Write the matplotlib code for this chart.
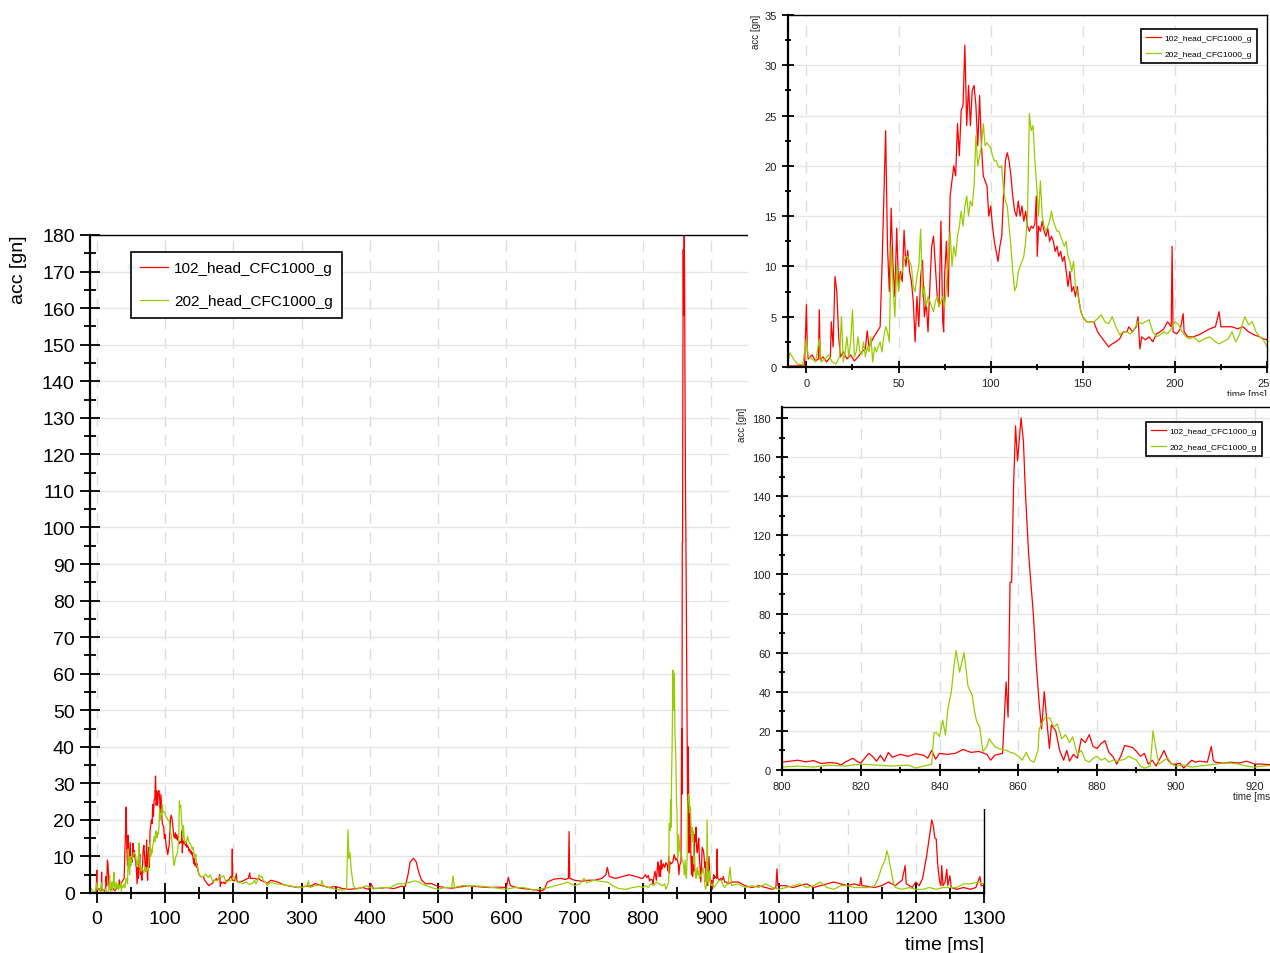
import matplotlib
matplotlib.use("Agg")
import matplotlib.pyplot as plt
from matplotlib.ticker import MultipleLocator
import numpy as np

plt.rcParams['font.family'] = ['Liberation Sans', 'DejaVu Sans']

label_red = "102_head_CFC1000_g"
label_green = "202_head_CFC1000_g"
c_red = "#ff0000"
c_green = "#99cc00"

# (time [ms], acc [gn]), split by time range
red_a = [(-10, 0.1), (-5, 0.1), (-1, 0.2), (0, 6.2), (0.5, 1.5), (1, 0.8), (3, 1.2), (5, 0.6),
         (6.5, 0.8), (7, 5.7), (7.5, 0.7), (9, 1.0), (11, 0.5), (13, 1.0), (13.5, 4.5), (14.5, 2.0),
         (15.5, 9.0), (16.5, 7.5), (17.5, 3.0), (18.5, 1.0), (20, 1.5), (22, 0.8), (24, 1.2), (26, 0.6),
         (28, 1.0), (30, 1.5), (32, 1.8), (33, 3.6), (34, 2.0), (36, 2.8), (38, 3.4), (40, 4.0),
         (41, 9.8), (42, 16.5), (43, 23.5), (44, 12.0), (45, 7.5), (46, 15.8), (47, 10.0), (48, 7.0),
         (49, 13.8), (50, 8.0), (51, 9.5), (52, 8.5), (53, 13.6), (54, 10.0), (55, 11.6), (56, 9.5),
         (57, 8.5), (58, 6.5), (59, 2.5), (60, 7.0), (61, 4.0), (62, 9.0), (63, 10.6), (64, 5.0),
         (65, 6.5), (66, 3.5), (67, 8.0), (68, 12.0), (69, 13.0), (70, 10.0), (71, 7.0), (72, 6.0),
         (73, 14.5), (74, 4.5), (74.5, 3.5), (75, 9.0), (76, 12.5), (77, 7.0), (78, 17.0), (79, 18.5),
         (80, 20.0), (81, 19.0), (82, 24.2), (83, 21.0), (84, 25.5), (85, 26.0), (86, 32.0), (87, 24.0),
         (88, 28.0), (89, 24.0), (90, 27.5), (91, 28.0), (92, 26.0), (93, 22.0), (94, 27.0), (95, 22.0),
         (96, 19.0), (97, 18.5), (98, 18.0), (99, 15.0), (100, 16.0), (101, 14.0), (102, 12.5),
         (103, 11.5), (104, 10.5), (105, 12.0), (106, 13.0), (107, 17.0), (108, 20.5), (109, 21.3),
         (110, 20.5), (111, 19.0), (112, 17.0), (113, 15.5), (114, 15.0), (115, 16.5), (116, 15.0),
         (117, 16.0), (118, 14.5), (119, 15.5), (120, 14.0), (121, 13.5), (122, 14.0), (123, 13.8),
         (124, 14.2), (124.8, 17.0), (125.3, 11.0), (126, 14.0), (127, 13.5), (128, 14.5), (129, 13.5),
         (130, 13.0), (131, 13.8), (132, 12.5), (133, 13.0), (134, 12.5), (135, 11.5), (136, 12.0),
         (137, 11.0), (138, 11.5), (139, 10.5), (140, 11.0), (141, 9.5), (142, 8.0), (143, 9.5),
         (144, 7.5), (145, 8.0), (146, 7.0), (147, 8.0), (148, 6.5), (149, 5.5), (150, 5.0), (152, 4.5),
         (154, 4.5), (156, 4.5), (158, 3.5), (160, 3.0), (162, 2.5), (164, 2.0), (166, 2.3), (168, 2.5),
         (170, 2.8), (172, 3.5), (174, 3.5), (175, 4.0), (177, 3.5), (179, 4.0), (180, 5.0), (181, 1.8),
         (182, 3.0), (184, 2.7), (186, 3.0), (188, 2.5), (190, 3.3), (192, 3.5), (194, 3.8), (196, 4.5),
         (198, 4.0), (198.5, 12.0), (199, 3.5), (201, 3.3), (203, 3.8), (204.5, 5.3), (205, 3.5),
         (207, 3.0), (210, 3.0), (213, 3.2), (216, 3.5), (219, 3.8), (222, 4.0), (224, 5.5), (225, 4.0),
         (228, 4.0), (231, 4.0), (234, 3.8), (237, 4.0), (240, 3.5), (243, 3.2), (246, 3.0), (248, 2.8),
         (250, 2.7)]

green_a = [(-10, 0.5), (-9, 1.4), (-7, 0.8), (-5, 0.3), (-2, 0.2), (0, 2.8), (1, 1.0), (3, 0.8),
           (5, 0.5), (7, 2.8), (8, 0.5), (10, 0.8), (12, 1.2), (14, 0.5), (16, 0.3), (18, 1.0),
           (19, 5.0), (20, 0.5), (21, 1.5), (22, 3.0), (23, 1.0), (24, 2.5), (25, 5.7), (26, 1.0),
           (27, 1.5), (28, 3.0), (29, 1.5), (30, 1.2), (31, 2.5), (32, 1.0), (33, 2.0), (34, 1.5),
           (35, 3.0), (36, 0.5), (37, 2.0), (38, 1.5), (39, 2.0), (40, 2.5), (41, 1.5), (42, 3.0),
           (43, 4.0), (44, 3.5), (45, 2.5), (46, 12.0), (47, 8.0), (48, 5.0), (49, 10.0), (50, 7.5),
           (51, 9.0), (52, 9.5), (53, 10.5), (54, 11.0), (55, 11.0), (56, 10.5), (57, 10.0), (58, 8.0),
           (59, 7.5), (60, 9.0), (61, 10.0), (62, 13.7), (63, 7.0), (64, 8.0), (65, 6.0), (66, 7.0),
           (67, 6.5), (68, 6.0), (69, 5.5), (70, 6.5), (71, 7.0), (72, 6.0), (73, 6.5), (74, 7.0),
           (75, 6.0), (76, 8.0), (77, 11.0), (78, 13.5), (79, 10.0), (80, 12.0), (81, 11.0), (82, 13.0),
           (83, 14.0), (84, 15.5), (85, 14.0), (86, 16.0), (87, 17.0), (88, 15.0), (89, 16.5),
           (90, 16.0), (91, 18.0), (92, 23.0), (93, 20.0), (94, 21.0), (95, 22.0), (96, 24.2),
           (97, 22.0), (98, 22.3), (99, 22.0), (100, 21.8), (101, 21.0), (102, 20.5), (103, 20.5),
           (104, 20.0), (105, 19.8), (106, 20.0), (107, 17.5), (108, 16.5), (109, 16.0), (110, 14.0),
           (111, 12.0), (112, 9.5), (113, 7.6), (114, 8.0), (115, 9.5), (116, 10.0), (117, 10.5),
           (118, 11.0), (119, 12.5), (120, 15.0), (121, 25.2), (122, 23.5), (123, 24.0), (124, 20.5),
           (125, 18.0), (126, 15.0), (127, 18.5), (128, 15.0), (129, 14.0), (130, 13.5), (131, 14.0),
           (132, 14.5), (133, 15.5), (134, 14.5), (135, 14.0), (136, 13.5), (137, 13.5), (138, 13.0),
           (139, 12.5), (140, 12.0), (141, 12.5), (142, 11.0), (143, 10.5), (144, 9.5), (145, 10.5),
           (146, 8.0), (147, 7.5), (148, 6.5), (149, 5.5), (150, 5.0), (152, 4.5), (154, 4.5),
           (156, 4.5), (158, 4.8), (160, 5.2), (162, 4.5), (164, 4.3), (166, 5.0), (168, 4.0),
           (170, 3.2), (172, 3.5), (174, 3.5), (176, 3.3), (178, 3.8), (180, 4.5), (182, 4.3),
           (184, 4.5), (186, 4.7), (188, 3.5), (190, 3.0), (192, 3.2), (194, 3.5), (196, 3.3),
           (198, 3.8), (200, 4.5), (202, 4.2), (204, 3.5), (206, 3.0), (208, 2.8), (210, 3.0),
           (213, 2.5), (216, 2.8), (219, 3.0), (222, 2.5), (224, 2.3), (226, 2.5), (229, 2.8),
           (231, 3.5), (233, 2.5), (235, 3.2), (237, 4.5), (238, 5.0), (240, 4.2), (242, 4.5),
           (244, 3.5), (246, 3.0), (248, 2.7), (250, 2.0)]

red_b = [(255, 3.5), (265, 3.0), (275, 2.2), (285, 1.8), (295, 1.5), (305, 1.8), (315, 2.0), (320, 2.6),
         (330, 2.0), (340, 1.5), (350, 1.8), (360, 1.2), (370, 1.0), (380, 1.2), (390, 1.5), (398, 1.0),
         (402, 2.5), (405, 1.2), (415, 1.3), (425, 1.5), (435, 1.2), (445, 1.8), (452, 1.8), (456, 5.0),
         (459, 8.4), (464, 9.5), (468, 8.5), (472, 5.5), (476, 3.5), (482, 2.5), (490, 2.6), (500, 1.8),
         (510, 1.5), (520, 1.3), (530, 1.6), (545, 2.0), (560, 1.7), (575, 1.5), (590, 1.6), (600, 1.5),
         (603, 4.3), (606, 2.0), (615, 1.5), (625, 1.2), (635, 1.0), (645, 0.8), (650, 0.5), (656, 1.0),
         (660, 3.0), (670, 3.8), (680, 4.0), (686, 3.7), (691, 4.0), (692, 16.8), (693, 4.0), (700, 3.5),
         (710, 3.2), (720, 3.5), (730, 3.5), (740, 4.0), (746, 5.0), (748, 7.0), (751, 4.5), (760, 4.0),
         (770, 4.5), (780, 5.0), (790, 4.5), (798, 4.0)]

green_b = [(255, 3.0), (262, 2.5), (272, 2.3), (282, 2.0), (292, 1.6), (300, 1.5), (308, 2.0), (310, 3.3),
           (312, 1.5), (320, 2.0), (328, 2.2), (330, 3.4), (332, 2.0), (340, 1.5), (350, 1.0), (360, 0.8),
           (366, 1.0), (368, 17.3), (369.5, 9.5), (371, 11.0), (373, 6.0), (376, 2.0), (380, 1.0),
           (388, 1.5), (395, 2.0), (400, 1.5), (410, 1.2), (420, 1.5), (430, 1.5), (440, 2.5), (450, 2.5),
           (460, 3.0), (466, 3.3), (472, 3.0), (480, 2.2), (490, 1.5), (500, 1.0), (510, 1.5), (520, 1.5),
           (522, 4.7), (524, 1.5), (535, 2.0), (550, 2.0), (565, 1.8), (580, 1.5), (592, 1.2), (600, 1.0),
           (612, 1.5), (625, 1.5), (640, 0.8), (652, 1.2), (662, 1.5), (672, 2.0), (682, 2.5), (690, 3.0),
           (700, 2.0), (708, 2.5), (714, 4.0), (718, 2.8), (728, 3.5), (738, 3.2), (748, 3.0), (756, 2.0),
           (765, 1.2), (775, 1.0), (785, 1.5), (795, 1.8)]

red_c = [(800, 4.0), (802, 4.5), (804, 5.0), (806, 4.2), (808, 4.8), (810, 3.3), (812, 3.8), (814, 3.5),
         (815, 2.5), (816, 4.0), (818, 6.0), (819, 4.5), (820, 3.5), (821, 6.0), (822, 8.5), (823, 7.0),
         (824, 4.5), (825, 7.5), (826, 4.5), (827, 9.0), (828, 6.5), (830, 8.0), (832, 7.0), (834, 8.3),
         (836, 7.5), (837, 6.0), (838, 10.0), (839, 5.5), (840, 8.5), (842, 8.0), (844, 8.5), (846, 10.5),
         (848, 9.0), (850, 9.5), (852, 8.0), (853, 5.0), (854, 7.5), (856, 8.5), (856.9, 45.0),
         (857.4, 27.0), (857.9, 96.0), (858.3, 96.0), (858.8, 145.0), (859.3, 176.0), (859.8, 158.0),
         (860.2, 168.0), (860.7, 180.0), (861.3, 168.0), (861.8, 142.0), (862.6, 111.0), (863.8, 80.0),
         (864.6, 53.0), (865.3, 34.0), (865.9, 21.0), (866.6, 40.0), (867.2, 26.0), (867.9, 11.0),
         (868.4, 23.0), (869.5, 20.0), (870.5, 10.0), (871.5, 5.0), (872.3, 10.0), (873, 4.5),
         (874, 8.0), (875, 6.0), (876, 16.0), (877, 14.0), (878, 18.0), (879, 12.0), (880, 11.0),
         (881, 13.5), (882, 15.0), (883, 9.0), (884, 7.0), (885, 3.0), (886, 7.0), (887, 12.5),
         (888, 12.0), (889, 11.5), (890, 9.5), (891, 7.0), (892, 8.5), (893, 3.0), (894, 5.0),
         (895, 2.0), (896, 6.0), (897, 10.0), (898, 5.0), (899, 3.0), (900, 3.0), (901, 3.5),
         (902, 1.0), (903, 3.0), (904, 5.0), (905, 4.0), (906, 4.5), (908, 4.0), (909, 12.0),
         (909.5, 5.0), (910, 4.0), (912, 3.5), (914, 4.0), (916, 3.5), (918, 4.5), (920, 3.0),
         (922, 3.0), (925, 2.5)]

green_c = [(800, 1.5), (804, 2.0), (808, 1.5), (812, 2.5), (816, 2.0), (820, 3.0), (824, 2.5), (828, 2.0),
           (832, 2.5), (834, 1.0), (836, 2.0), (838, 3.0), (838.6, 19.0), (839.3, 19.0), (840, 17.0),
           (840.8, 25.5), (841.5, 18.0), (842.1, 31.0), (843, 40.0), (843.6, 52.0), (844.2, 61.0),
           (844.7, 55.0), (845.1, 50.0), (846.2, 60.0), (846.7, 52.0), (847.2, 43.0), (848.3, 38.0),
           (848.9, 30.0), (849.4, 25.0), (850.2, 22.0), (851, 9.5), (852, 12.0), (852.6, 16.0),
           (854, 12.0), (855, 11.0), (856, 10.5), (857, 10.0), (858, 9.0), (859, 8.5), (860, 7.0),
           (861, 5.0), (862, 9.0), (863, 5.0), (864, 4.0), (865, 10.0), (865.3, 21.0), (866.8, 27.0),
           (868, 26.5), (869, 22.0), (869.9, 23.5), (871, 16.0), (872, 18.0), (873, 14.0), (873.8, 17.0),
           (875, 8.0), (876, 10.0), (877, 5.0), (878, 4.0), (879, 6.0), (880, 7.0), (881, 5.0),
           (882, 6.0), (883, 4.0), (884, 5.0), (885, 4.5), (886, 5.0), (887, 5.5), (888, 7.0),
           (889, 6.0), (890, 5.0), (891, 2.0), (892, 1.0), (893.5, 2.0), (894.2, 20.0), (895, 10.0),
           (895.7, 3.0), (897, 5.0), (898, 6.0), (899, 3.0), (900, 2.0), (902, 2.5), (904, 1.5),
           (906, 2.0), (908, 2.5), (910, 3.0), (912, 3.5), (914, 3.5), (916, 3.0), (918, 2.0),
           (920, 1.5), (922, 2.0), (925, 2.5)]

red_d = [(930, 3.0), (940, 3.0), (950, 2.0), (960, 1.5), (970, 2.0), (980, 1.5), (990, 1.0), (995, 1.5),
         (996.6, 6.6), (998, 2.0), (1010, 2.0), (1020, 1.5), (1030, 2.0), (1040, 2.5), (1050, 1.5),
         (1060, 2.0), (1070, 2.5), (1080, 3.0), (1090, 2.5), (1100, 2.0), (1110, 2.5), (1118, 2.0),
         (1119.6, 4.3), (1121, 2.0), (1130, 1.8), (1140, 1.5), (1150, 2.0), (1160, 3.0), (1170, 2.0),
         (1180, 3.5), (1184.5, 7.5), (1186, 2.5), (1195, 1.5), (1200, 3.0), (1205, 2.0), (1210, 4.0),
         (1216, 10.2), (1219, 14.0), (1222, 18.0), (1223.5, 20.0), (1226, 18.0), (1228, 15.0),
         (1230, 14.8), (1232, 8.0), (1235, 3.0), (1237, 2.0), (1238, 7.5), (1240, 2.0), (1243, 3.0),
         (1245.5, 6.5), (1247, 2.0), (1250, 4.7), (1252, 1.5), (1260, 1.0), (1270, 1.5), (1280, 1.0),
         (1288, 1.5), (1294, 4.5), (1296, 2.0), (1300, 2.0)]

green_d = [(928, 7.0), (930, 2.0), (940, 2.5), (950, 1.5), (960, 2.0), (970, 1.5), (980, 2.5), (990, 1.5),
           (1000, 1.0), (1010, 1.5), (1020, 2.0), (1030, 2.5), (1040, 1.5), (1050, 2.0), (1060, 3.0),
           (1070, 1.5), (1080, 1.0), (1090, 2.0), (1100, 2.0), (1110, 1.5), (1120, 1.5), (1130, 1.5),
           (1140, 2.0), (1145, 4.0), (1150, 7.0), (1155, 9.0), (1157.6, 11.6), (1160, 10.0), (1163, 7.0),
           (1167, 3.0), (1170, 1.5), (1180, 1.0), (1190, 1.5), (1200, 1.0), (1210, 1.0), (1220, 1.5),
           (1230, 1.0), (1240, 1.5), (1250, 1.5), (1260, 1.5), (1270, 2.5), (1280, 2.5), (1290, 3.0),
           (1300, 2.5)]

t_red, acc_red = np.array(red_a + red_b + red_c + red_d).T
t_green, acc_green = np.array(green_a + green_b + green_c + green_d).T


def style_axes(ax, xmaj, xmin, ymaj, ymin, big, lab_size):
    ax.xaxis.set_major_locator(MultipleLocator(xmaj))
    ax.xaxis.set_minor_locator(MultipleLocator(xmin))
    ax.yaxis.set_major_locator(MultipleLocator(ymaj))
    ax.yaxis.set_minor_locator(MultipleLocator(ymin))
    ax.yaxis.grid(True, color="#e6e6e6", lw=1.0, ls="-")
    ax.xaxis.grid(True, color="#dedede", lw=1.0, ls=(0, (8, 6)))
    ax.set_axisbelow(True)
    ax.tick_params(which="major", direction="inout", length=big, width=1.3,
                   labelsize=lab_size, top=False, right=False)
    ax.tick_params(which="minor", direction="inout", length=big * 0.55, width=1.3,
                   top=False, right=False)
    ax.spines["left"].set_linewidth(1.6)
    ax.spines["bottom"].set_linewidth(1.6)
    ax.spines["top"].set_linewidth(1.0)
    ax.spines["right"].set_linewidth(1.0)


def add_legend(ax, x, y, size, lw, spacing=1.0):
    leg = ax.legend(loc="upper left", bbox_to_anchor=(x, y), borderaxespad=0, fontsize=size,
                    fancybox=False, framealpha=1, edgecolor="black", handlelength=1.8,
                    labelspacing=spacing, borderpad=0.6, handletextpad=0.4)
    leg.get_frame().set_linewidth(lw)


W, H = 1270, 954
fig = plt.figure(figsize=(W / 100, H / 100), dpi=100)


def rect(x0, y0, x1, y1):
    # pixel box (top-left origin) to figure fraction
    return [x0 / W, (H - y1) / H, (x1 - x0) / W, (y1 - y0) / H]


# main chart
ax = fig.add_axes(rect(90, 236, 984, 894), zorder=0)
ax.plot(t_red, acc_red, color=c_red, lw=0.9, label=label_red)
ax.plot(t_green, acc_green, color=c_green, lw=0.9, label=label_green)
ax.set_xlim(-10, 1300)
ax.set_ylim(0, 180)
style_axes(ax, 100, 50, 10, 5, 15, 14)
ax.tick_params(axis="x", which="major", pad=5)
ax.set_xlabel("time [ms]", fontsize=14, loc="right")
ax.xaxis.set_label_coords(1.0, -0.066)
ax.set_ylabel("acc [gn]", fontsize=14, loc="top")
ax.yaxis.set_label_coords(-0.071, 1.0)
add_legend(ax, 0.046, 0.974, 11, 1.2, spacing=1.25)

# white backing for the upper inset
bg1 = fig.add_axes(rect(748, 0, 1270, 397), zorder=1)
bg1.set_facecolor("white")
bg1.set_xticks([])
bg1.set_yticks([])
for s in bg1.spines.values():
    s.set_visible(False)

ax1 = fig.add_axes(rect(788, 16, 1267, 368), zorder=2)
ax1.plot(t_red, acc_red, color=c_red, lw=0.9, label=label_red)
ax1.plot(t_green, acc_green, color=c_green, lw=0.9, label=label_green)
ax1.set_xlim(-10, 250)
ax1.set_ylim(0, 35)
style_axes(ax1, 50, 25, 5, 2.5, 9, 8)
ax1.tick_params(labelcolor="#222222")
ax1.set_xlabel("time [ms]", fontsize=7, loc="right", color="#222222")
ax1.xaxis.set_label_coords(1.0, -0.062)
ax1.set_ylabel("acc [gn]", fontsize=7, loc="top", color="#222222")
ax1.yaxis.set_label_coords(-0.056, 1.003)
add_legend(ax1, 0.737, 0.960, 6, 1.2)

# white backing for the lower inset
bg2 = fig.add_axes(rect(730, 397, 1270, 810), zorder=3)
bg2.set_facecolor("white")
bg2.set_xticks([])
bg2.set_yticks([])
for s in bg2.spines.values():
    s.set_visible(False)

ax2 = fig.add_axes(rect(782, 408, 1294, 771), zorder=4)
ax2.plot(t_red, acc_red, color=c_red, lw=0.9, label=label_red)
ax2.plot(t_green, acc_green, color=c_green, lw=0.9, label=label_green)
ax2.set_xlim(800, 930)
ax2.set_ylim(0, 185.6)
style_axes(ax2, 20, 10, 20, 10, 9, 8)
ax2.tick_params(labelcolor="#222222")
ax2.set_xlabel("time [ms]", fontsize=7, loc="right", color="#222222")
ax2.xaxis.set_label_coords(0.959, -0.058)
ax2.set_ylabel("acc [gn]", fontsize=7, loc="top", color="#222222")
ax2.yaxis.set_label_coords(-0.068, 1.0)
add_legend(ax2, 0.711, 0.959, 6, 1.2)

fig.savefig("out.png", dpi=100)
